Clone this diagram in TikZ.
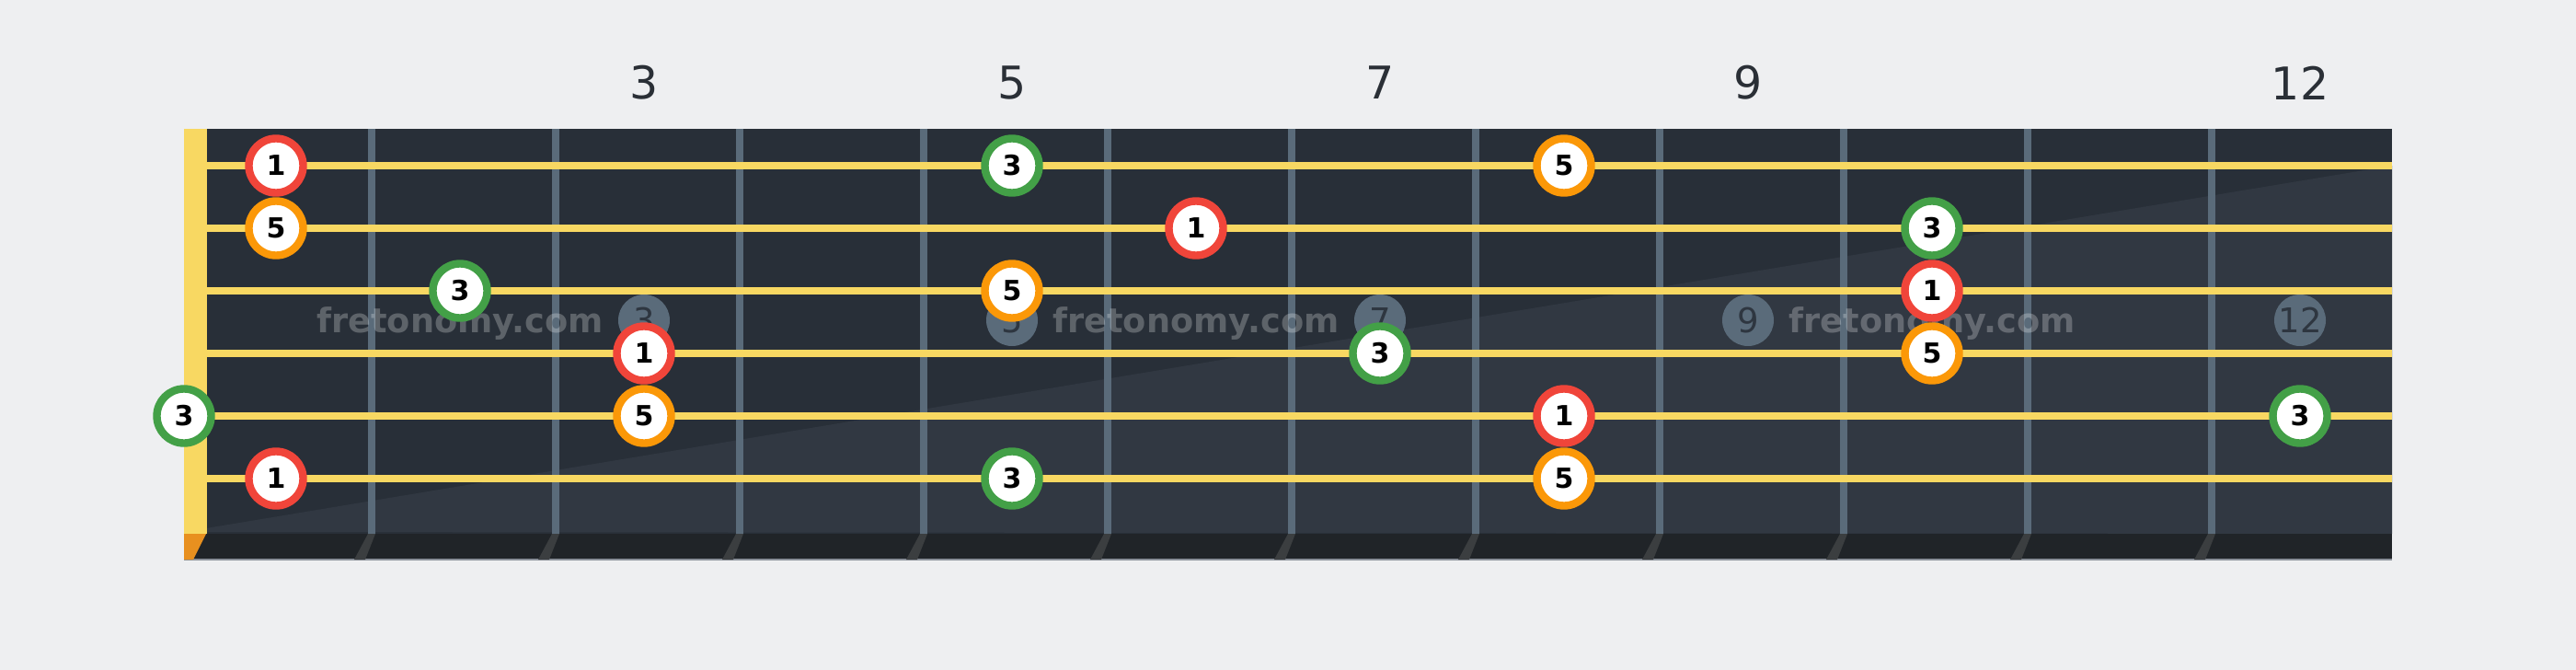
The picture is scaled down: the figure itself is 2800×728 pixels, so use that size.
\documentclass[tikz,border=0pt]{standalone}
\usepackage{fontspec}
\newfontfamily\djv{DejaVu Sans}
\definecolor{bgc}{HTML}{EEEFF1}
\definecolor{boardtop}{HTML}{282F38}
\definecolor{boardlow}{HTML}{313842}
\definecolor{stripc}{HTML}{202428}
\definecolor{shadowc}{HTML}{3B3E40}
\definecolor{edgec}{HTML}{8A9099}
\definecolor{fretc}{HTML}{5A6B7A}
\definecolor{stringc}{HTML}{F8D862}
\definecolor{nutorange}{HTML}{E8901F}
\definecolor{rootred}{HTML}{F0453A}
\definecolor{fifthorange}{HTML}{FB9808}
\definecolor{thirdgreen}{HTML}{43A047}
\definecolor{labeltext}{HTML}{2A2F36}
\definecolor{inlaytext}{HTML}{2E3640}
\begin{document}
\begin{tikzpicture}[x=1pt,y=-1pt,
  note/.style={circle, draw=#1, line width=8.4pt, fill=white, minimum size=59pt, inner sep=0pt,
    font=\djv\bfseries\fontsize{30}{30}\selectfont, text=black},
  inlay/.style={circle, fill=fretc, minimum size=56pt, inner sep=0pt,
    font=\djv\fontsize{37}{37}\selectfont, text=inlaytext},
  fretnum/.style={inner sep=0pt, font=\djv\fontsize{49}{49}\selectfont, text=labeltext},
  wm/.style={font=\djv\bfseries\fontsize{36.7}{37}\selectfont, text=white, text opacity=0.25,
    anchor=base, inner sep=0pt}]
\useasboundingbox (0,0) rectangle (2800,728);
\fill[bgc] (0,0) rectangle (2800,728);
% board
\fill[boardtop] (200,140) rectangle (2600,580);
\fill[boardlow] (200,578) -- (2600,180) -- (2600,580) -- cycle;
\fill[stripc] (200,580) rectangle (2600,608);
\draw[edgec, line width=2pt] (200,608) -- (2600,608);
% frets
\foreach \k in {0,...,10} {
  \pgfmathsetmacro\fx{404+200*\k}
  \fill[fretc] (\fx-4,140) rectangle (\fx+4,580);
  \fill[shadowc] (\fx-4,580) -- (\fx+4,580) -- (\fx-7,608) -- (\fx-19,608) -- cycle;
}
% nut
\fill[stringc] (200,140) rectangle (225,580);
\fill[nutorange] (200,580) -- (224,580) -- (210,608) -- (200,608) -- cycle;
% strings
\foreach \y in {180,248,316,384,452,520} {
  \fill[stringc] (225,\y-4) rectangle (2600,\y+4);
}
% fret numbers
\node[fretnum] (n3) at (700,90) {3};
\node[fretnum] (n5) at (1100,90) {5};
\node[fretnum] (n7) at (1500,90) {7};
\node[fretnum] (n9) at (1900,90) {9};
\node[fretnum] (n12) at (2500,90) {12};
% inlays
\node[inlay] (i3) at (700,348) {3};
\node[inlay] (i5) at (1100,348) {5};
\node[inlay] (i7) at (1500,348) {7};
\node[inlay] (i9) at (1900,348) {9};
\node[inlay] (i12) at (2500,348) {12};
% watermarks
\node[wm] (wm1) at (500,361) {fretonomy.com};
\node[wm] (wm2) at (1300,361) {fretonomy.com};
\node[wm] (wm3) at (2100,361) {fretonomy.com};
% notes
\node[note=rootred] (a1) at (300,180) {1};
\node[note=thirdgreen] (a2) at (1100,180) {3};
\node[note=fifthorange] (a3) at (1700,180) {5};
\node[note=fifthorange] (b1) at (300,248) {5};
\node[note=rootred] (b2) at (1300,248) {1};
\node[note=thirdgreen] (b3) at (2100,248) {3};
\node[note=thirdgreen] (c1) at (500,316) {3};
\node[note=fifthorange] (c2) at (1100,316) {5};
\node[note=rootred] (c3) at (2100,316) {1};
\node[note=rootred] (d1) at (700,384) {1};
\node[note=thirdgreen] (d2) at (1500,384) {3};
\node[note=fifthorange] (d3) at (2100,384) {5};
\node[note=thirdgreen] (e1) at (200,452) {3};
\node[note=fifthorange] (e2) at (700,452) {5};
\node[note=rootred] (e3) at (1700,452) {1};
\node[note=thirdgreen] (e4) at (2500,452) {3};
\node[note=rootred] (f1) at (300,520) {1};
\node[note=thirdgreen] (f2) at (1100,520) {3};
\node[note=fifthorange] (f3) at (1700,520) {5};
\end{tikzpicture}
\end{document}
